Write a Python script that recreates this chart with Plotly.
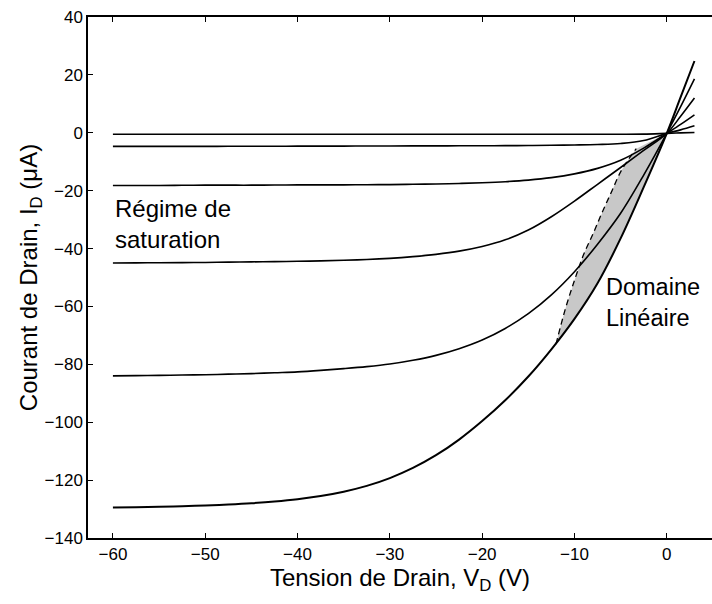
import plotly.graph_objects as go

# Drain voltage grid (V) at which the curves were read
vd = [-60, -57.5, -55, -52.5, -50, -47.5, -45, -42.5, -40, -37.5, -35, -32.5, -30,
      -27.5, -25, -22.5, -20, -17.5, -15, -12.5, -10, -7.5, -5, -2.5, 0, 1.5, 3]

# Drain current (uA) for each gate voltage curve
id_curve1 = [-0.5, -0.5, -0.5, -0.5, -0.5, -0.5, -0.5, -0.5, -0.5, -0.5, -0.5, -0.5, -0.5,
             -0.5, -0.5, -0.5, -0.5, -0.5, -0.5, -0.5, -0.5, -0.5, -0.5, -0.45, -0.2, -0.05, 0.1]
id_curve2 = [-4.7, -4.7, -4.7, -4.7, -4.7, -4.68, -4.66, -4.64, -4.62, -4.6, -4.6, -4.58, -4.56,
             -4.54, -4.52, -4.5, -4.48, -4.45, -4.4, -4.33, -4.22, -4.05, -3.7, -2.7, -0.2, 1.0, 2.4]
id_curve3 = [-18.2, -18.2, -18.2, -18.15, -18.1, -18.1, -18.1, -18.05, -18.0, -18.0, -18.0, -17.95, -17.9,
             -17.8, -17.7, -17.5, -17.25, -16.9, -16.35, -15.5, -14.2, -12.3, -9.5, -5.3, -0.2, 2.9, 6.2]
id_curve4 = [-45.0, -44.95, -44.9, -44.85, -44.8, -44.7, -44.6, -44.5, -44.4, -44.25, -44.05, -43.8, -43.4,
             -42.8, -42.0, -40.9, -39.3, -37.0, -33.6, -29.0, -23.6, -17.8, -12.0, -6.1, -0.2, 5.7, 12.0]
id_curve5 = [-84.0, -83.9, -83.8, -83.7, -83.6, -83.4, -83.2, -82.9, -82.6, -82.1, -81.5, -80.8, -79.9,
             -78.6, -76.9, -74.6, -71.6, -67.6, -62.5, -56.0, -48.0, -38.5, -27.8, -14.6, -0.2, 9.0, 18.6]
id_curve6 = [-129.5, -129.35, -129.2, -129.0, -128.8, -128.45, -128.0, -127.4, -126.6, -125.5, -124.0, -122.0, -119.3,
             -115.8, -111.4, -106.0, -99.6, -92.4, -84.2, -74.8, -64.3, -52.0, -36.5, -18.8, -0.2, 12.3, 24.8]

# Saturation boundary (dashed line)
vd_sat = [-12.0, -11.0, -10.0, -9.0, -8.0, -7.0, -6.0, -5.0, -4.0, -3.3]
id_sat = [-73.0, -61.0, -51.0, -42.0, -35.0, -27.5, -20.5, -13.5, -8.5, -5.5]

x_ticks = [-60, -50, -40, -30, -20, -10, 0]
y_ticks = [40, 20, 0, -20, -40, -60, -80, -100, -120, -140]

FONT = "Liberation Sans, Arial, Helvetica, sans-serif"

fig = go.Figure()

# Shaded linear domain: dashed boundary -> origin -> back along the last curve
seg = [(v, i) for v, i in zip(vd, id_curve6) if vd_sat[0] < v <= 0]
fill_x = list(vd_sat) + [v for v, _ in reversed(seg)]
fill_y = list(id_sat) + [i for _, i in reversed(seg)]
fig.add_trace(go.Scatter(x=fill_x, y=fill_y, mode="lines", fill="toself",
                         fillcolor="rgb(200,200,200)", line=dict(width=0),
                         hoverinfo="skip", showlegend=False))

for ys, w in [(id_curve1, 1.6), (id_curve2, 1.6), (id_curve3, 1.6),
              (id_curve4, 1.6), (id_curve5, 1.6), (id_curve6, 2.0)]:
    fig.add_trace(go.Scatter(x=vd, y=ys, mode="lines",
                             line=dict(color="black", width=w, shape="spline", smoothing=1.0),
                             showlegend=False))

fig.add_trace(go.Scatter(x=vd_sat, y=id_sat, mode="lines",
                         line=dict(color="black", width=1.3, dash="6px,4px", shape="spline"),
                         showlegend=False))

fig.add_annotation(x=-60, y=-31.5, xref="x", yref="y", xanchor="left", yanchor="middle",
                   text="Régime de<br>saturation", showarrow=False, align="left",
                   font=dict(family=FONT, size=24, color="black"))
fig.add_annotation(x=-6.8, y=-58.5, xref="x", yref="y", xanchor="left", yanchor="middle",
                   text="Domaine<br>Linéaire", showarrow=False, align="left",
                   font=dict(family=FONT, size=23.5, color="black"))

fig.update_layout(
    width=712, height=604,
    margin=dict(l=88, r=0, t=17, b=66),
    paper_bgcolor="white", plot_bgcolor="white",
    font=dict(family=FONT, size=17, color="black"),
    showlegend=False,
)
fig.update_xaxes(range=[-62.7, 4.9], tickvals=x_ticks, ticks="inside", ticklen=5,
                 tickcolor="black", showline=True, linecolor="black", linewidth=1.5,
                 mirror="ticks", showgrid=False, zeroline=False,
                 title=dict(text="Tension de Drain, V<sub>D</sub> (V)", standoff=2,
                            font=dict(family=FONT, size=24)))
fig.update_yaxes(range=[-140, 40], tickvals=y_ticks, ticks="inside", ticklen=5,
                 tickcolor="black", showline=True, linecolor="black", linewidth=1.5,
                 mirror=False, showgrid=False, zeroline=False,
                 title=dict(text="Courant de Drain, I<sub>D</sub> (μA)", standoff=0,
                            font=dict(family=FONT, size=24)))

fig.write_html("out.html")
